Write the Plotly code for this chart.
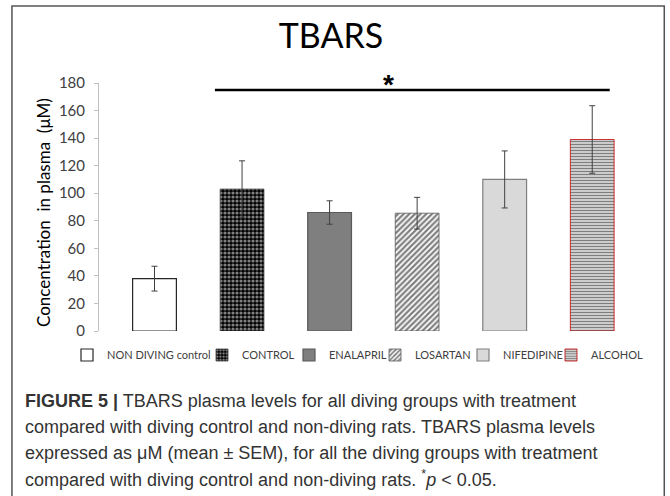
import plotly.graph_objects as go

# ---------------- data ----------------
categories = ["NON DIVING control", "CONTROL", "ENALAPRIL", "LOSARTAN", "NIFEDIPINE", "ALCOHOL"]
means = [38, 103, 86, 85.5, 110, 139]
sem = [9, 20.5, 8.5, 11.5, 20.7, 24.5]
y_ticks = [0, 20, 40, 60, 80, 100, 120, 140, 160, 180]
sig_span = [0.69, 5.2]     # category-axis span of significance bar
sig_level = 175            # y level of significance bar
star_pos = 2.67

# ---------------- layout helpers ----------------
W, H = 670, 496
L_PX, R_PX, T_PX, B_PX = 99, 635.75, 83, 331      # plot area in window pixels
def px2x(px):
    return (px - L_PX) / (R_PX - L_PX)
def py2y(py):
    return (B_PX - py) / (B_PX - T_PX)
def cx(px):
    return px / W
def cy(py):
    return 1 - py / H

SANS = "Lato, Liberation Sans, sans-serif"

styles = [
    dict(color="white", line=dict(color="#262626", width=1.2)),
    dict(color="black", line=dict(color="#404040", width=0.8),
         pattern=dict(shape=".", fgcolor="white", bgcolor="black", size=4, solidity=0.5)),
    dict(color="#7f7f7f", line=dict(color="#595959", width=1.2)),
    dict(color="white", line=dict(color="#595959", width=0.8),
         pattern=dict(shape="/", fgcolor="black", bgcolor="white", size=4, solidity=0.55)),
    dict(color="#d9d9d9", line=dict(color="#7f7f7f", width=1.2)),
    dict(color="white", line=dict(color="#c00000", width=0.8),
         pattern=dict(shape="-", fgcolor="black", bgcolor="white", size=3, solidity=0.6)),
]
legend_px = [67, 202, 289, 375, 463, 551]   # window px of each legend box

fig = go.Figure()
for i, cat in enumerate(categories):
    lname = "legend" if i == 0 else f"legend{i+1}"
    fig.add_trace(go.Bar(
        x=[cat], y=[means[i]], name=cat, width=0.5,
        marker=styles[i],
        error_y=dict(type="data", array=[sem[i]], color="#404040", thickness=1, width=3),
        legend=lname, showlegend=True,
    ))

layout_legends = {}
for i in range(len(categories)):
    lname = "legend" if i == 0 else f"legend{i+1}"
    layout_legends[lname] = dict(
        xref="container", yref="container",
        x=cx(legend_px[i]), y=cy(355), xanchor="left", yanchor="middle",
        orientation="h", bgcolor="rgba(0,0,0,0)", borderwidth=0,
        font=dict(family=SANS, size=11, color="#404040"), itemwidth=30,
    )

fig.update_layout(
    width=W, height=H,
    margin=dict(l=L_PX, r=W - R_PX, t=T_PX, b=H - B_PX, pad=0, autoexpand=False),
    paper_bgcolor="white", plot_bgcolor="white",
    barmode="overlay",
    title=dict(text="TBARS", x=cx(331), xanchor="center", y=cy(36), yanchor="middle",
               font=dict(family=SANS, size=34, color="black")),
    xaxis=dict(range=[-0.634, 5.5], showline=False, showticklabels=False, ticks="",
               showgrid=False, zeroline=False, fixedrange=True),
    yaxis=dict(range=[0, 180], tickvals=y_ticks, showline=True, linecolor="#bfbfbf", linewidth=1,
               ticks="outside", ticklen=4, tickcolor="#bfbfbf", ticklabelstandoff=6,
               showgrid=False, zeroline=False,
               tickfont=dict(family=SANS, size=15, color="#404040")),
    showlegend=True,
    **layout_legends,
)

# significance bar and star
fig.add_shape(type="line", xref="x", yref="y", x0=sig_span[0], x1=sig_span[1],
              y0=sig_level, y1=sig_level, line=dict(color="black", width=2.5))
fig.add_annotation(x=star_pos, y=sig_level, xref="x", yref="y", yshift=5,
                   text="<b>*</b>", showarrow=False,
                   font=dict(family="Liberation Sans, Arial", size=28, color="black"))

# y-axis title
fig.add_annotation(x=px2x(43), y=py2y(212), xref="paper", yref="paper", textangle=-90,
                   text="Concentration  in plasma  (μM)", showarrow=False,
                   xanchor="center", yanchor="middle",
                   font=dict(family=SANS, size=17, color="black"))

# outer frame
fig.add_shape(type="rect", xref="paper", yref="paper",
              x0=px2x(12), x1=px2x(664), y0=py2y(6), y1=py2y(520),
              line=dict(color="#555555", width=1.5), fillcolor="rgba(0,0,0,0)", layer="below")

# caption
caption = [
    "<b>FIGURE 5 |</b> TBARS plasma levels for all diving groups with treatment",
    "compared with diving control and non-diving rats. TBARS plasma levels",
    "expressed as μM (mean ± SEM), for all the diving groups with treatment",
    "compared with diving control and non-diving rats. <sup>*</sup><i>p</i> &lt; 0.05.",
]
cap_y = [401, 427, 453, 478]
for t, yy in zip(caption, cap_y):
    fig.add_annotation(x=px2x(23), y=py2y(yy), xref="paper", yref="paper", text=t,
                       showarrow=False, xanchor="left", yanchor="middle",
                       font=dict(family="Liberation Sans, Arial", size=18, color="#333333"))

fig.write_html("out.html", config={"displayModeBar": False},
               post_script="document.body.style.margin='0';document.body.style.overflow='hidden';")
